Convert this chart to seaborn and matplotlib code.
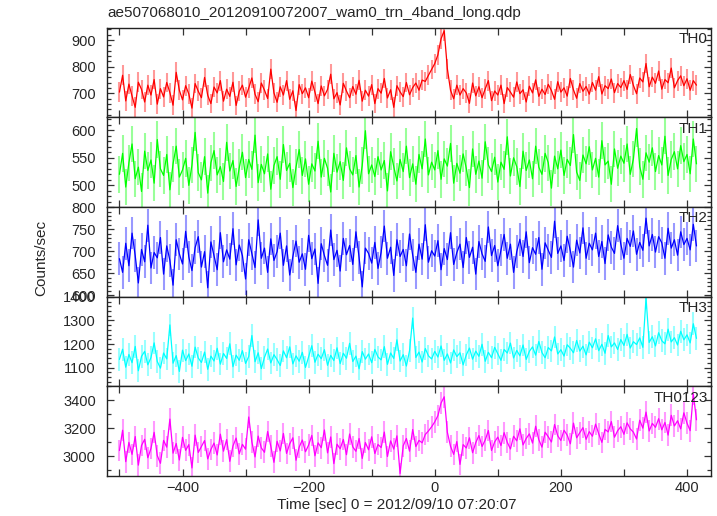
import numpy as np
import pandas as pd
import matplotlib
matplotlib.use("Agg")
import matplotlib.pyplot as plt
import seaborn as sns
from matplotlib.ticker import MultipleLocator

# time bins (sec from 2012/09/10 07:20:07), 5 s steps
time = np.arange(-500, 420, 5)

th0 = [705, 768, 672, 735, 690, 648, 742, 715, 668, 731,
       694, 752, 660, 718, 687, 741, 703, 656, 779, 712,
       676, 729, 698, 645, 737, 708, 684, 760, 693, 662,
       724, 702, 748, 671, 716, 689, 742, 655, 708, 731,
       686, 720, 758, 697, 669, 739, 712, 681, 791, 702,
       667, 725, 694, 748, 678, 710, 636, 733, 699, 721,
       684, 746, 705, 662, 728, 691, 715, 772, 680, 703,
       657, 738, 709, 684, 726, 697, 749, 671, 712, 690,
       733, 662, 718, 701, 756, 683, 714, 648, 729, 706,
       688, 741, 695, 722, 739, 712, 750, 745, 768, 790,
       812, 845, 905, 935, 792, 712, 680, 731, 694, 718,
       702, 663, 739, 691, 725, 684, 717, 748, 673, 709,
       694, 731, 662, 722, 705, 686, 743, 699, 714, 668,
       727, 702, 751, 689, 716, 696, 734, 711, 678, 744,
       705, 721, 690, 756, 713, 682, 737, 708, 726, 697,
       741, 712, 763, 698, 729, 718, 754, 703, 737, 722,
       748, 715, 771, 730, 699, 758, 743, 812, 725, 761,
       738, 784, 716, 752, 740, 795, 721, 748, 766, 729,
       755, 712, 748, 731]

th1 = [520, 558, 497, 541, 575, 512, 533, 489, 562, 527,
       546, 504, 583, 530, 518, 556, 492, 539, 571, 515,
       528, 549, 500, 537, 596, 523, 510, 552, 486, 541,
       563, 519, 534, 507, 578, 526, 545, 498, 532, 560,
       514, 547, 529, 591, 505, 538, 521, 557, 493, 536,
       552, 511, 574, 527, 540, 496, 533, 565, 518, 548,
       502, 539, 526, 580, 515, 549, 531, 488, 558, 524,
       543, 509, 568, 530, 519, 554, 497, 536, 599, 521,
       537, 516, 552, 528, 545, 490, 561, 534, 508, 547,
       525, 571, 514, 539, 502, 556, 530, 584, 519, 542,
       528, 563, 511, 548, 535, 576, 504, 540, 522, 557,
       531, 496, 566, 520, 544, 513, 579, 537, 525, 551,
       506, 542, 529, 588, 517, 550, 534, 498, 562, 527,
       546, 512, 571, 533, 520, 558, 541, 495, 553, 530,
       564, 518, 547, 536, 592, 524, 509, 555, 539, 570,
       528, 549, 515, 581, 537, 544, 502, 566, 531, 553,
       540, 575, 520, 548, 603, 534, 511, 559, 542, 568,
       525, 554, 537, 589, 518, 547, 561, 530, 572, 543,
       556, 521, 584, 539]

th2 = [683, 652, 718, 667, 741, 690, 628, 704, 676, 759,
       662, 697, 685, 731, 648, 712, 679, 623, 726, 694,
       671, 745, 687, 656, 708, 733, 664, 699, 617, 721,
       689, 658, 742, 676, 703, 682, 751, 669, 714, 690,
       637, 726, 695, 663, 771, 684, 707, 652, 728, 679,
       699, 741, 668, 712, 646, 688, 723, 675, 694, 659,
       736, 683, 705, 627, 717, 690, 668, 748, 681, 702,
       655, 729, 692, 713, 670, 744, 686, 619, 707, 695,
       673, 720, 661, 698, 757, 684, 709, 645, 726, 688,
       704, 667, 739, 691, 652, 716, 682, 760, 675, 701,
       689, 724, 658, 706, 681, 742, 670, 697, 716, 663,
       731, 686, 709, 648, 722, 694, 677, 755, 690, 713,
       667, 703, 738, 684, 716, 652, 699, 727, 688, 744,
       674, 708, 693, 731, 659, 719, 702, 686, 768, 695,
       712, 679, 734, 701, 664, 725, 696, 753, 684, 718,
       703, 741, 688, 722, 672, 737, 709, 695, 758, 716,
       684, 729, 711, 746, 693, 720, 702, 775, 712, 738,
       698, 733, 719, 684, 752, 707, 726, 691, 744, 715,
       729, 703, 761, 712]

th3 = [1135, 1178, 1102, 1156, 1121, 1190, 1087, 1148, 1169, 1112,
       1143, 1205, 1126, 1098, 1162, 1137, 1281, 1119, 1151, 1084,
       1174, 1130, 1158, 1106, 1187, 1141, 1122, 1166, 1093, 1149,
       1128, 1182, 1115, 1160, 1139, 1201, 1104, 1153, 1131, 1172,
       1118, 1147, 1236, 1125, 1163, 1096, 1144, 1179, 1120, 1155,
       1134, 1109, 1171, 1142, 1188, 1116, 1150, 1127, 1165, 1101,
       1146, 1193, 1123, 1157, 1138, 1176, 1110, 1152, 1130, 1184,
       1117, 1161, 1140, 1203, 1126, 1149, 1095, 1168, 1136, 1158,
       1121, 1177, 1145, 1133, 1189, 1114, 1162, 1139, 1218, 1128,
       1155, 1107, 1172, 1310, 1143, 1166, 1124, 1181, 1150, 1137,
       1169, 1145, 1192, 1131, 1158, 1120, 1175, 1147, 1163, 1112,
       1154, 1183, 1136, 1170, 1148, 1199, 1127, 1165, 1142, 1186,
       1158, 1131, 1177, 1162, 1204, 1141, 1173, 1150, 1196, 1135,
       1169, 1188, 1153, 1211, 1164, 1142, 1185, 1171, 1230, 1158,
       1176, 1149, 1197, 1182, 1163, 1215, 1170, 1191, 1154, 1208,
       1184, 1222, 1172, 1199, 1161, 1236, 1188, 1205, 1177, 1219,
       1194, 1241, 1183, 1210, 1198, 1226, 1186, 1395, 1207, 1231,
       1192, 1248, 1214, 1201, 1263, 1209, 1227, 1196, 1254, 1218,
       1239, 1205, 1286, 1224]

th0123 = [3040, 3185, 2960, 3098, 3012, 3140, 2935, 3076, 3120, 2988,
          3055, 3170, 3003, 2948, 3112, 3064, 3265, 3021, 3090, 2972,
          3134, 3041, 3082, 2915, 3150, 3026, 3068, 3111, 2980, 3047,
          3093, 3008, 3157, 3035, 3118, 2962, 3072, 3129, 3016, 3084,
          3049, 3280, 3101, 2994, 3143, 3058, 3027, 3176, 3071, 2955,
          3106, 3037, 3162, 3019, 3088, 3131, 2970, 3064, 3115, 3031,
          3079, 3148, 3002, 3095, 3060, 3187, 3023, 3137, 2946, 3085,
          3052, 3119, 3010, 3158, 3066, 3034, 3126, 2983, 3097, 3045,
          3138, 3018, 3083, 3061, 3172, 2997, 3109, 3050, 3145, 2875,
          3074, 3126, 3035, 3190, 3068, 3112, 3095, 3155, 3180, 3210,
          3245, 3290, 3380, 3425, 3170, 3070, 3012, 3104, 2940, 3082,
          3058, 3131, 3024, 3096, 3147, 3069, 3115, 3183, 3040, 3102,
          3136, 3075, 3168, 3098, 3051, 3142, 3109, 3195, 3080, 3126,
          3159, 3093, 3214, 3117, 3064, 3171, 3138, 3101, 3226, 3145,
          3112, 3185, 3150, 3088, 3236, 3131, 3167, 3204, 3120, 3175,
          3142, 3229, 3160, 3098, 3191, 3173, 3247, 3135, 3182, 3210,
          3156, 3238, 3195, 3171, 3122, 3257, 3200, 3315, 3180, 3234,
          3206, 3268, 3188, 3241, 3150, 3292, 3216, 3253, 3195, 3310,
          3236, 3182, 3445, 3260]

names = ["TH0", "TH1", "TH2", "TH3", "TH0123"]
rates = [th0, th1, th2, th3, th0123]
errs = [37, 33, 37, 48, 78]   # approx 1-sigma error bar half-length
colors = ["#ff0000", "#00ff00", "#0000ff", "#00ffff", "#ff00ff"]
ylims = [(611, 947), (461, 623.5), (597, 800.5), (1021, 1401), (2857, 3500)]
ymajor = [100, 50, 50, 100, 200]
yminor = [20, 10, 10, 20, 100]

sns.set_theme(style="ticks")
plt.rcParams['font.family'] = ['Liberation Sans', 'DejaVu Sans']

fig, axes = plt.subplots(5, 1, sharex=True, figsize=(7.17, 5.16), dpi=100)
fig.subplots_adjust(left=0.149, right=0.9916, bottom=0.0775, top=0.9467, hspace=0)

for i, ax in enumerate(axes):
    df = pd.DataFrame({"time": time, "rate": rates[i]})
    # error bars (lighter) then the light curve
    ax.vlines(df["time"], df["rate"] - errs[i], df["rate"] + errs[i],
              color=colors[i], alpha=0.4, lw=1.5)
    sns.lineplot(data=df, x="time", y="rate", ax=ax, color=colors[i], lw=0.9)
    ax.set_xlim(-520, 438)
    ax.set_ylim(*ylims[i])
    ax.yaxis.set_major_locator(MultipleLocator(ymajor[i]))
    ax.yaxis.set_minor_locator(MultipleLocator(yminor[i]))
    ax.xaxis.set_major_locator(MultipleLocator(200))
    ax.xaxis.set_minor_locator(MultipleLocator(100))
    ax.tick_params(which='both', direction='in', top=True, right=True,
                   width=0.9, color='#333333', labelsize=10.5)
    ax.tick_params(which='major', length=5)
    ax.tick_params(axis='y', which='both', pad=8)
    ax.tick_params(axis='y', which='minor', length=3)
    ax.tick_params(axis='x', which='minor', length=5)
    for sp in ax.spines.values():
        sp.set_linewidth(1.0)
        sp.set_color('#222222')
    ax.set_xlabel("")
    ax.set_ylabel("")
    ax.text(0.995, 0.95, names[i], transform=ax.transAxes, ha='right', va='top', fontsize=11)

fig.text(107 / 717, 1 - 13 / 516, "ae507068010_20120910072007_wam0_trn_4band_long.qdp",
         ha='left', va='center', fontsize=11)
fig.text(41 / 717, 1 - 258 / 516, "Counts/sec", rotation=90, ha='center', va='center', fontsize=11)
fig.text(397 / 717, 1 - 505 / 516, "Time [sec] 0 = 2012/09/10 07:20:07",
         ha='center', va='center', fontsize=11)

fig.savefig("out.png", dpi=100)
